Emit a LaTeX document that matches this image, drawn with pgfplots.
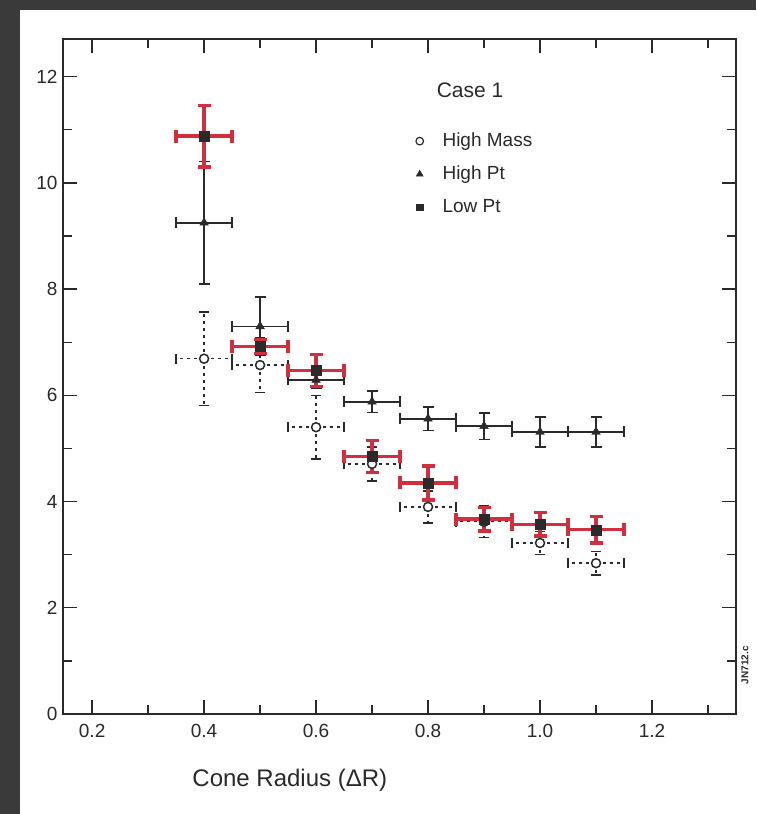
\documentclass[border=0pt]{standalone}
\usepackage{fontspec}
\setmainfont{Liberation Sans}
\usepackage{pgfplots}
\usepackage{pgfplotstable}
\pgfplotsset{compat=1.18}
\definecolor{redbar}{RGB}{208,48,62}
\definecolor{ink}{RGB}{42,42,42}
\definecolor{scanframe}{RGB}{58,58,58}

\pgfplotstableread{
x y ex ey
0.4 6.69 0.05 0.88
0.5 6.57 0.05 0.52
0.6 5.40 0.05 0.60
0.7 4.71 0.05 0.32
0.8 3.90 0.05 0.30
0.9 3.62 0.05 0.30
1.0 3.22 0.05 0.22
1.1 2.84 0.05 0.22
}\highmass

\pgfplotstableread{
x y ex ey
0.4 9.25 0.05 1.15
0.5 7.30 0.05 0.55
0.6 6.29 0.05 0.15
0.7 5.88 0.05 0.20
0.8 5.56 0.05 0.22
0.9 5.42 0.05 0.25
1.0 5.31 0.05 0.28
1.1 5.31 0.05 0.28
}\highpt

\pgfplotstableread{
x y ex ey
0.4 10.88 0.05 0.58
0.5 6.92 0.05 0.13
0.6 6.47 0.05 0.30
0.7 4.85 0.05 0.30
0.8 4.35 0.05 0.32
0.9 3.67 0.05 0.22
1.0 3.57 0.05 0.22
1.1 3.47 0.05 0.25
}\lowpt

\begin{document}
\begin{tikzpicture}[x=1pt,y=1pt]
\useasboundingbox (0,0) rectangle (756,814);
\fill[scanframe] (0,0) rectangle (756,814);
\fill[white] (20,0) rectangle (756,804);
\begin{axis}[
  at={(63pt,100pt)}, anchor=south west,
  scale only axis, width=673pt, height=675pt,
  xmin=0.148, xmax=1.35, ymin=0, ymax=12.71,
  clip=false,
  xtick={0.2,0.4,0.6,0.8,1.0,1.2},
  xticklabels={0.2,0.4,0.6,0.8,1.0,1.2},
  minor xtick={0.3,0.5,0.7,0.9,1.1,1.3},
  ytick={0,2,4,6,8,10,12},
  yticklabels={0,2,4,6,8,10,12},
  minor ytick={1,3,5,7,9,11},
  major tick length=14pt, minor tick length=9pt,
  tick style={line width=1.3pt, ink},
  axis line style={line width=1.8pt, ink},
  /pgf/number format/assume math mode=true,
  ticklabel style={font=\fontsize{19}{19}\selectfont, text=ink},
  xticklabel style={yshift=-7pt},
  yticklabel style={xshift=-2pt},
  xlabel={Cone Radius (ΔR)},
  xlabel style={at={(rel axis cs:0.337,0)}, anchor=center, yshift=-66pt,
    font=\fontsize{24}{24}\selectfont, text=ink},
  legend style={at={(axis cs:0.778,10.96)}, anchor=north west, draw=none, fill=none,
    inner sep=0pt, row sep=15pt,
    nodes={inner sep=0pt, text height=14pt, text depth=4pt},
    /tikz/every odd column/.append style={column sep=19pt},
    font=\fontsize{19}{19}\selectfont, text=ink},
  legend cell align=left,
]
\addlegendimage{only marks, mark=*, mark size=3.8pt, mark options={fill=white, draw=ink, line width=1.2pt}}
\addlegendentry{High Mass}
\addlegendimage{only marks, mark=triangle*, mark size=4pt, mark options={fill=ink, draw=ink}}
\addlegendentry{High Pt}
\addlegendimage{only marks, mark=square*, mark size=3.3pt, mark options={fill=ink, draw=ink}}
\addlegendentry{Low Pt}

% High Mass: open circles, dashed error bars
\addplot[only marks, mark=*, mark size=4.5pt, mark options={fill=white, draw=ink, line width=1.5pt, solid},
  error bars/.cd, x dir=both, x explicit, y dir=both, y explicit,
  error bar style={line width=1.5pt, ink, dash pattern=on 3pt off 4pt},
  error mark options={rotate=90, solid, line width=1.5pt, ink, mark size=5pt}]
  table[x=x, y=y, x error=ex, y error=ey]{\highmass};

% High Pt: triangles, solid black error bars
\addplot[only marks, mark=triangle*, mark size=5pt, mark options={fill=ink, draw=ink},
  error bars/.cd, x dir=both, x explicit, y dir=both, y explicit,
  error bar style={line width=1.6pt, ink},
  error mark options={rotate=90, line width=1.6pt, ink, mark size=5.5pt}]
  table[x=x, y=y, x error=ex, y error=ey]{\highpt};

% Low Pt: squares, thick red error bars
\addplot[only marks, mark=square*, mark size=5pt, mark options={fill=ink, draw=ink},
  error bars/.cd, x dir=both, x explicit, y dir=both, y explicit,
  error bar style={line width=3.5pt, redbar},
  error mark options={rotate=90, line width=3.5pt, redbar, mark size=6.5pt}]
  table[x=x, y=y, x error=ex, y error=ey]{\lowpt};

\node[font=\fontsize{21}{21}\selectfont, text=ink] at (axis cs:0.875,11.75) {Case 1};
\node[font=\bfseries\fontsize{10}{10}\selectfont, text=ink, rotate=90] at (axis cs:1.366,0.92) {JN712.c};
\end{axis}
\end{tikzpicture}
\end{document}
